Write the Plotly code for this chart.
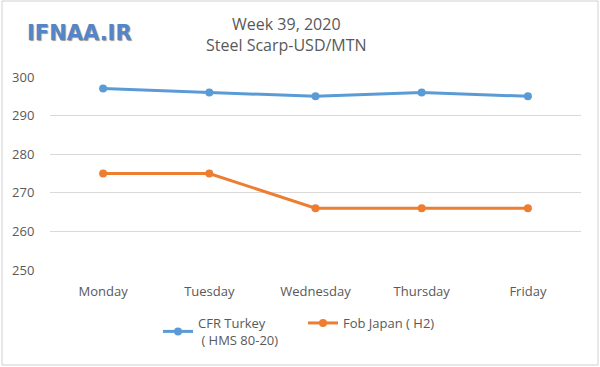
import plotly.graph_objects as go

days = ["Monday", "Tuesday", "Wednesday", "Thursday", "Friday"]
cfr_turkey = [297, 296, 295, 296, 295]
fob_japan = [275, 275, 266, 266, 266]
y_ticks = [250, 260, 270, 280, 290, 300]

W, H = 600, 367
ml, mr, mt, mb = 50, 19, 77, 97
pw, ph = W - ml - mr, H - mt - mb

def px_x(x):
    return (x - ml) / pw

def px_y(y):
    return (H - mb - y) / ph

fig = go.Figure()
fig.add_trace(go.Scatter(
    x=days, y=cfr_turkey, mode="lines+markers",
    name="CFR Turkey<br> ( HMS 80-20)",
    line=dict(color="#5b9bd5", width=3),
    marker=dict(size=8, color="#5b9bd5"),
))
fig.add_trace(go.Scatter(
    x=days, y=fob_japan, mode="lines+markers",
    name="Fob Japan ( H2)",
    line=dict(color="#ed7d31", width=3),
    marker=dict(size=8, color="#ed7d31"),
))

font_fam = "Open Sans, Liberation Sans, sans-serif"
fig.update_layout(
    width=W, height=H,
    margin=dict(l=ml, r=mr, t=mt, b=mb, autoexpand=False),
    paper_bgcolor="white", plot_bgcolor="white",
    font=dict(family=font_fam, size=13, color="#595959"),
    showlegend=True,
    legend=dict(orientation="h", x=px_x(158), y=px_y(308), xanchor="left", yanchor="top",
                font=dict(size=13, color="#595959"), entrywidth=100, entrywidthmode="pixels",
                bgcolor="rgba(0,0,0,0)", tracegroupgap=0),
    xaxis=dict(showgrid=False, showline=False, zeroline=False, automargin=False,
               range=[-0.5, 4.5],
               ticks="outside", ticklen=9, tickcolor="rgba(0,0,0,0)",
               tickfont=dict(size=13, color="#595959"), fixedrange=True),
    yaxis=dict(range=[250, 300], tickvals=y_ticks, showgrid=True, automargin=False,
               gridcolor="#d9d9d9", gridwidth=1, zeroline=False, showline=False,
               ticks="outside", ticklen=12, tickcolor="rgba(0,0,0,0)",
               tickfont=dict(size=13, color="#595959"), fixedrange=True),
)

fig.add_annotation(text="Week 39, 2020<br>Steel Scarp-USD/MTN", xref="paper", yref="paper",
                   x=px_x(286), y=px_y(34), xanchor="center", yanchor="middle",
                   showarrow=False, font=dict(size=16, color="#595959", family=font_fam),
                   align="center")
fig.add_annotation(text="<b>IFNAA.IR</b>", xref="paper", yref="paper",
                   x=px_x(79), y=px_y(33), xanchor="center", yanchor="middle",
                   showarrow=False,
                   font=dict(size=21, color="#5585c9", family="DejaVu Sans", shadow="1px 1px 1px #9a9a9a"))

fig.add_shape(type="rect", xref="paper", yref="paper",
              x0=px_x(2), x1=px_x(598), y0=px_y(365), y1=px_y(1),
              line=dict(color="#d0d0d0", width=1), fillcolor="rgba(0,0,0,0)", layer="below")

fig.write_html("out.html", config={"displayModeBar": False},
               post_script="document.body.style.margin='0px';")
